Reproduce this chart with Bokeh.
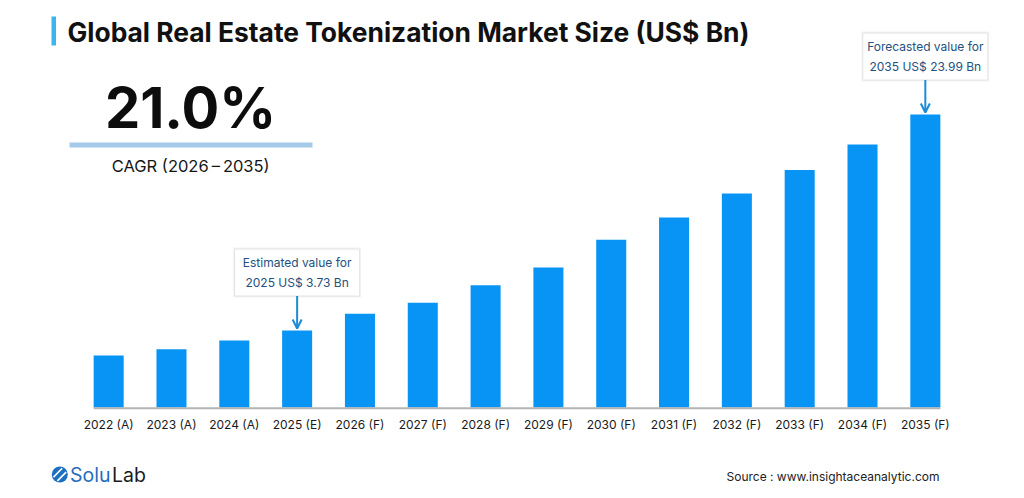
from bokeh.plotting import figure
from bokeh.models import FactorRange, Range1d, Label, Arrow, OpenHead
from bokeh.embed import file_html
from bokeh.resources import INLINE
from bokeh.core.properties import value

# ---- data -------------------------------------------------------------
years = ["2022 (A)", "2023 (A)", "2024 (A)", "2025 (E)", "2026 (F)", "2027 (F)",
         "2028 (F)", "2029 (F)", "2030 (F)", "2031 (F)", "2032 (F)", "2033 (F)",
         "2034 (F)", "2035 (F)"]
market_size = [1.39, 1.98, 2.79, 3.73, 5.30, 6.33, 7.98, 9.64, 12.24, 14.33,
               16.58, 18.80, 21.18, 23.99]

title_text = "Global Real Estate Tokenization Market Size (US$ Bn)"
cagr_value = "21.0%"
cagr_period = "CAGR  (2026\u2009\u2013\u20092035)"
callouts = [(3, "Estimated value for"), (13, "Forecasted value for")]
source_text = "Source :  www.insightaceanalytic.com"

# ---- geometry ---------------------------------------------------------
W, H = 1024, 498
LEFT = 9                      # left border so the bars sit where wanted
PAD = 1.0787                  # factor padding on both ends of the x range
BAR_W = 0.478
PX_PER_BN = 10.66             # vertical scale
BASE_PY = 407                 # pixel row of the baseline
AXIS_FLOOR = -3.49            # value at the baseline

y_end = AXIS_FLOOR + BASE_PY / PX_PER_BN
y_start = AXIS_FLOOR - (H - BASE_PY) / PX_PER_BN
XS = (W - LEFT) / (len(years) + 2 * PAD)


def dx(px):
    return -PAD + (px - LEFT) / XS


def dy(py):
    return y_end - py / PX_PER_BN


FONT = "Inter"
BAR_COLOR = "#0894f5"

p = figure(width=W, height=H,
           x_range=FactorRange(factors=years, range_padding=PAD,
                               range_padding_units="absolute"),
           y_range=Range1d(y_start, y_end),
           output_backend="svg", toolbar_location=None,
           x_axis_location=None, y_axis_location=None,
           min_border=0, min_border_left=LEFT)
p.xgrid.grid_line_color = None
p.ygrid.grid_line_color = None
p.outline_line_color = None
p.background_fill_color = "white"
p.border_fill_color = "white"

# ---- bars and baseline ------------------------------------------------
p.vbar(x=years, top=market_size, bottom=AXIS_FLOOR, width=BAR_W,
       fill_color=BAR_COLOR, line_color=None)
p.segment(x0=[0.5 - BAR_W / 2], x1=[len(years) - 0.5 + BAR_W / 2],
          y0=[AXIS_FLOOR - 0.08], y1=[AXIS_FLOOR - 0.08],
          line_color="#b4b4b4", line_width=2)

p.text(x=years, y=[AXIS_FLOOR - 17 / PX_PER_BN] * len(years), text=years,
       text_font=value(FONT), text_font_size="12px", text_color="#1a1a1a",
       text_align="center", text_baseline="middle")

# ---- callout boxes ----------------------------------------------------
BOX_W, BOX_H = 125, 47
for i, lead in callouts:
    yr = years[i][:4]
    v = market_size[i]
    box_cy = v + 58 / PX_PER_BN
    p.rect(x=[years[i]], y=[box_cy], width=BOX_W + 3, height=BOX_H + 3,
           width_units="screen", height_units="screen",
           fill_color="#f3f3f3", line_color=None)
    p.rect(x=[years[i]], y=[box_cy], width=BOX_W, height=BOX_H,
           width_units="screen", height_units="screen",
           fill_color="white", line_color="#e4e4e4", line_width=1)
    p.text(x=[years[i]], y=[box_cy],
           text=[f"{lead}\n{yr} US$ {v:.2f} Bn"],
           text_font=value(FONT), text_font_size="12px",
           text_color="#245180", text_align="center",
           text_baseline="middle", text_line_height=1.3)
    p.add_layout(Arrow(end=OpenHead(size=9, line_color="#1a8bd8", line_width=2),
                       x_start=i + 0.5, x_end=i + 0.5,
                       y_start=box_cy - BOX_H / 2 / PX_PER_BN,
                       y_end=v + 2 / PX_PER_BN,
                       line_color="#1a8bd8", line_width=2))

# ---- heading ----------------------------------------------------------
p.quad(left=[dx(51)], right=[dx(55.5)], top=[dy(16)], bottom=[dy(45)],
       fill_color="#3bb5f0", line_color=None)
p.add_layout(Label(x=dx(67), y=dy(31), text=title_text,
                   text_font=FONT, text_font_style="bold",
                   text_font_size="26.4px", text_color="#111111",
                   text_baseline="middle"))

# ---- CAGR block -------------------------------------------------------
p.add_layout(Label(x=dx(190), y=dy(107.5), text=cagr_value,
                   text_font=FONT, text_font_style="bold",
                   text_font_size="56px", text_color="#0d0d0d",
                   text_align="center", text_baseline="middle"))
p.quad(left=[dx(69)], right=[dx(312)], top=[dy(142)], bottom=[dy(147)],
       fill_color="#a6cbea", line_color=None)
p.add_layout(Label(x=dx(192.5), y=dy(165.5), text=cagr_period,
                   text_font=FONT, text_font_size="16.5px",
                   text_color="#151515", text_align="center",
                   text_baseline="middle"))

# ---- brand mark -------------------------------------------------------
p.scatter(x=[dx(59.3)], y=[dy(474)], size=16, marker="circle",
          fill_color="#1d6fc0", line_color=None)
p.segment(x0=[dx(53.0), dx(56.9)], y0=[dy(476.6), dy(480.4)],
          x1=[dx(61.7), dx(65.6)], y1=[dy(467.8), dy(471.6)],
          line_color="white", line_width=1.6)
p.add_layout(Label(x=dx(69.5), y=dy(474.5), text="Solu",
                   text_font=FONT, text_font_size="19.5px",
                   text_color="#1f6dbd", text_baseline="middle"))
p.add_layout(Label(x=dx(111.5), y=dy(474.5), text="Lab",
                   text_font=FONT, text_font_size="19.5px",
                   text_color="#1b1b1f", text_baseline="middle"))

# ---- source line ------------------------------------------------------
p.add_layout(Label(x=dx(726), y=dy(476), text=source_text,
                   text_font=FONT, text_font_size="12px",
                   text_color="#222222", text_baseline="middle"))

open("out.html", "w").write(file_html(p, INLINE))
